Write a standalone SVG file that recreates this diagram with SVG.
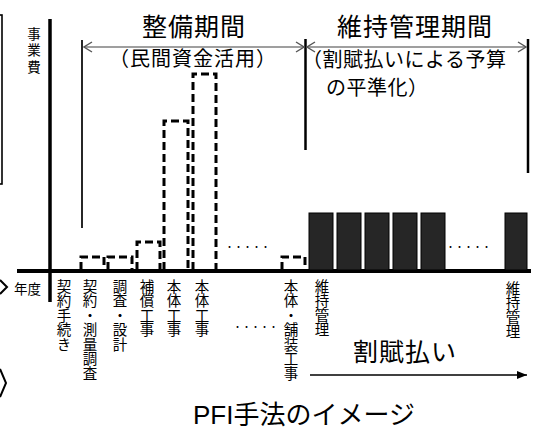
<svg xmlns="http://www.w3.org/2000/svg" width="534" height="430" viewBox="0 0 534 430">
<defs>
<style>
text{font-family:"Liberation Sans","Noto Sans CJK JP",sans-serif;fill:#000}
.jp{font-family:"Noto Sans CJK JP",sans-serif}
.vt{font-family:"Noto Sans CJK JP",sans-serif;writing-mode:vertical-rl;font-size:14.5px}
.dash{fill:none;stroke:#000;stroke-width:3;stroke-dasharray:8 4}
.solid{fill:#262626;stroke:#000;stroke-width:1}
.dots{font-family:"Noto Sans CJK JP",sans-serif;font-size:9px}
.span{stroke:#7f7f7f;stroke-width:1.7;fill:none}
.axis{stroke:#000;fill:none}
</style>
<marker id="open" viewBox="0 0 10 12" refX="9" refY="6" markerWidth="10" markerHeight="12" markerUnits="userSpaceOnUse" orient="auto-start-reverse">
<path d="M1,1 L9,6 L1,11" fill="none" stroke="#555" stroke-width="1.4"/>
</marker>
<marker id="tri" viewBox="0 0 10 8" refX="10" refY="4" markerWidth="10" markerHeight="8" markerUnits="userSpaceOnUse" orient="auto">
<path d="M0,0 L10,4 L0,8 Z" fill="#000"/>
</marker>
</defs>
<rect width="534" height="430" fill="#fff"/>

<g id="edge-shapes">
<rect x="-20" y="15" width="22" height="169" fill="none" stroke="#000" stroke-width="1.6"/>
<polyline points="0,280 7,287 0,294" fill="none" stroke="#000" stroke-width="2"/>
<polyline points="0,369 6,383 0,397" fill="none" stroke="#000" stroke-width="2"/>
</g>

<g id="axes">
<line class="axis" x1="50" y1="19" x2="50" y2="302" stroke-width="3.5"/>
<line class="axis" x1="17" y1="271" x2="531" y2="271" stroke-width="4"/>
<text class="jp" x="14" y="294" font-size="13.5">年度</text>
<text class="jp" x="34" y="27" font-size="13.5" style="writing-mode:vertical-rl;letter-spacing:3px">事業費</text>
</g>

<g id="period-markers">
<line class="axis" x1="82" y1="40" x2="82" y2="228" stroke-width="1.7"/>
<line class="axis" x1="305.5" y1="39" x2="305.5" y2="150" stroke-width="2.5"/>
<line class="axis" x1="528" y1="39" x2="528" y2="173" stroke-width="2.5"/>
</g>

<g id="connectors">
<line class="span" x1="84" y1="47" x2="304" y2="47" marker-start="url(#open)" marker-end="url(#open)"/>
<line class="span" x1="307" y1="47" x2="526" y2="47" marker-start="url(#open)" marker-end="url(#open)"/>
<line x1="310" y1="375" x2="527" y2="375" stroke="#000" stroke-width="1.5" marker-end="url(#tri)"/>
</g>

<g id="seibi-period">
<text class="jp" x="194" y="36" font-size="25" text-anchor="middle" style="letter-spacing:1px">整備期間</text>
<text class="jp" x="193" y="66" font-size="20" text-anchor="middle" style="letter-spacing:1px">（民間資金活用）</text>
</g>

<g id="iji-period">
<text class="jp" x="415" y="36" font-size="25" text-anchor="middle" style="letter-spacing:1px">維持管理期間</text>
<text class="jp" x="302" y="67" font-size="20" style="letter-spacing:0.5px">（割賦払いによる予算</text>
<text class="jp" x="326" y="95" font-size="20" style="letter-spacing:0.5px">の平準化）</text>
</g>

<g id="dashed-bars">
<path class="dash" d="M81,270 V257 H104 V270"/>
<path class="dash" d="M108,270 V257 H132 V270"/>
<path class="dash" d="M137,270 V242 H160 V270"/>
<path class="dash" d="M164,270 V121 H188 V270"/>
<path class="dash" d="M193,270 V74 H216 V270"/>
<path class="dash" d="M282,270 V257 H305 V270"/>
<text class="dots" x="225" y="250">・・・・・</text>
</g>

<g id="solid-bars">
<rect class="solid" x="309" y="213" width="24" height="57"/>
<rect class="solid" x="337" y="213" width="24" height="57"/>
<rect class="solid" x="365" y="213" width="24" height="57"/>
<rect class="solid" x="393" y="213" width="24" height="57"/>
<rect class="solid" x="421" y="213" width="24" height="57"/>
<rect class="solid" x="505" y="213" width="22" height="57"/>
<text class="dots" x="446" y="250">・・・・・</text>
</g>

<g id="year-labels">
<text class="vt" x="64" y="279">契約手続き</text>
<text class="vt" x="90" y="279">契約・測量調査</text>
<text class="vt" x="120" y="279">調査・設計</text>
<text class="vt" x="147" y="279">補償工事</text>
<text class="vt" x="174" y="279">本体工事</text>
<text class="vt" x="202" y="279">本体工事</text>
<text class="dots" x="233" y="330">・・・・・</text>
<text class="vt" x="291" y="279">本体・舗装工事</text>
<text class="vt" x="322" y="279">維持管理</text>
<text class="vt" x="513" y="281">維持管理</text>
</g>

<g id="installment">
<text class="jp" x="405" y="361" font-size="25" text-anchor="middle" style="letter-spacing:1px">割賦払い</text>
</g>

<g id="caption">
<text x="304" y="424" font-size="26" text-anchor="middle">PFI手法のイメージ</text>
</g>
</svg>
